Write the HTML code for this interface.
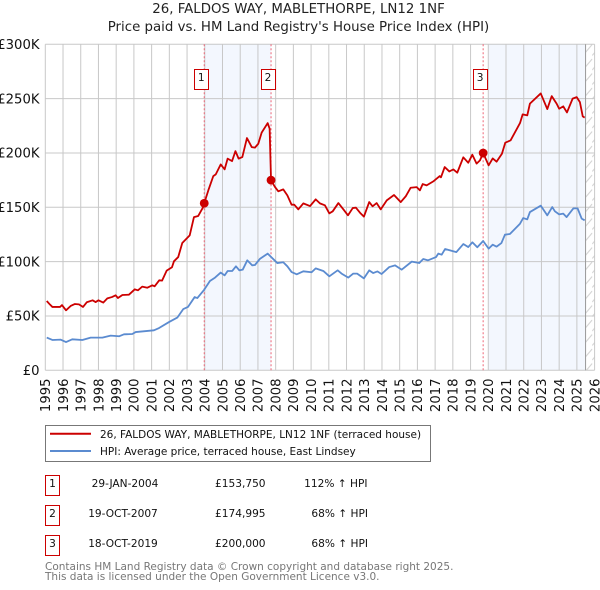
<!DOCTYPE html>
<html lang="en">
<head>
<meta charset="utf-8">
<title>26, FALDOS WAY, MABLETHORPE, LN12 1NF</title>
<style>
html,body{margin:0;padding:0;background:#fff;}
body{width:600px;height:590px;overflow:hidden;}
svg{display:block;font-family:"DejaVu Sans","Liberation Sans",sans-serif;}
</style>
</head>
<body>
<svg id="chart" width="600" height="590" viewBox="0 0 600 590" xmlns="http://www.w3.org/2000/svg">
  <defs>
    <pattern id="hatch" patternUnits="userSpaceOnUse" width="9.4" height="14.5">
      <line x1="0" y1="12" x2="9.4" y2="1" stroke="#d0d0d0" stroke-width="1"/>
    </pattern>
  </defs>
  <text x="298.5" y="13" font-size="13.35" text-anchor="middle" fill="#222">26, FALDOS WAY, MABLETHORPE, LN12 1NF</text>
  <text x="298.5" y="31" font-size="13.35" text-anchor="middle" fill="#222">Price paid vs. HM Land Registry's House Price Index (HPI)</text>
  <g id="plot"></g>

  <g>
    <rect x="45.5" y="425.5" width="385" height="36" fill="#fff" stroke="#777" stroke-width="1"/>
    <line x1="50" y1="433.7" x2="91" y2="433.7" stroke="#cc0000" stroke-width="2"/>
    <text x="100" y="438" font-size="10.5" fill="#111">26, FALDOS WAY, MABLETHORPE, LN12 1NF (terraced house)</text>
    <line x1="50" y1="451" x2="91" y2="451" stroke="#5b8bd0" stroke-width="2"/>
    <text x="100" y="455" font-size="10.5" fill="#111">HPI: Average price, terraced house, East Lindsey</text>
  </g>

  <g font-size="10.6" fill="#111">
    <g>
      <rect x="45.5" y="475.5" width="14" height="20" fill="#fff" stroke="#cc0000"/>
      <text x="52.5" y="487" text-anchor="middle">1</text>
      <text x="125" y="487" text-anchor="middle">29-JAN-2004</text>
      <text x="215" y="487">£153,750</text>
      <text x="367.5" y="487" text-anchor="end">112% ↑ HPI</text>
    </g>
    <g>
      <rect x="45.5" y="505.5" width="14" height="20" fill="#fff" stroke="#cc0000"/>
      <text x="52.5" y="517" text-anchor="middle">2</text>
      <text x="123" y="517" text-anchor="middle">19-OCT-2007</text>
      <text x="215" y="517">£174,995</text>
      <text x="368" y="517" text-anchor="end">68% ↑ HPI</text>
    </g>
    <g>
      <rect x="45.5" y="535.5" width="14" height="20" fill="#fff" stroke="#cc0000"/>
      <text x="52.5" y="547" text-anchor="middle">3</text>
      <text x="123" y="547" text-anchor="middle">18-OCT-2019</text>
      <text x="215" y="547">£200,000</text>
      <text x="368" y="547" text-anchor="end">68% ↑ HPI</text>
    </g>
  </g>

  <text x="45" y="570" font-size="10.5" fill="#777">Contains HM Land Registry data © Crown copyright and database right 2025.</text>
  <text x="45" y="580" font-size="10.5" fill="#777">This data is licensed under the Open Government Licence v3.0.</text>
</svg>
<script>
const xTickYears = [1995,1996,1997,1998,1999,2000,2001,2002,2003,2004,2005,2006,2007,2008,2009,2010,2011,2012,2013,2014,2015,2016,2017,2018,2019,2020,2021,2022,2023,2024,2025,2026];
const yTickValues = [0,50,100,150,200,250,300];
const yTickLabels = ['£0','£50K','£100K','£150K','£200K','£250K','£300K'];
const saleLabels = ['1','2','3'];
const saleYears = [2003.97,2007.74,2019.71];
const salePrices = [153.75,174.995,200];
const shadeStarts = [2003.97,2020.0];
const shadeEnds = [2007.74,2025.49];
const dataEndYear = 2025.49;
const redYears = [1995.08,1995.27,1995.4,1995.83,1995.94,1996.17,1996.43,1996.66,1996.9,1997.13,1997.34,1997.67,1997.84,1998.0,1998.27,1998.5,1998.76,1998.97,1999.1,1999.35,1999.72,2000.05,2000.23,2000.47,2000.76,2001.04,2001.17,2001.43,2001.59,2001.85,2002.15,2002.26,2002.5,2002.73,2003.15,2003.39,2003.63,2003.91,2003.97,2004.2,2004.48,2004.62,2004.9,2005.12,2005.29,2005.54,2005.73,2005.91,2006.12,2006.38,2006.65,2006.83,2007.02,2007.21,2007.55,2007.66,2007.74,2007.96,2008.15,2008.43,2008.66,2008.9,2009.05,2009.28,2009.56,2009.94,2010.26,2010.5,2010.78,2011.03,2011.22,2011.54,2011.82,2012.08,2012.35,2012.53,2012.76,2012.98,2013.28,2013.47,2013.7,2013.93,2014.27,2014.68,2015.06,2015.35,2015.62,2015.96,2016.14,2016.3,2016.52,2016.92,2017.26,2017.33,2017.54,2017.8,2018.03,2018.25,2018.59,2018.87,2019.1,2019.34,2019.53,2019.71,2020.02,2020.25,2020.47,2020.77,2020.96,2021.26,2021.79,2021.94,2022.2,2022.35,2022.96,2023.33,2023.58,2023.86,2024.0,2024.23,2024.44,2024.76,2024.99,2025.17,2025.33,2025.44];
const redValues = [63.8,60.4,58.3,58.3,60,55.2,59.2,61,60.7,58.3,62.6,64.4,62.8,64.4,62.3,66.2,67.4,69,66.5,69.3,69.6,74.5,73.6,77,76,78.2,77.3,82.8,82.5,91.7,94.8,100.3,104.2,117.1,124.2,141,142,150.2,153.75,165.6,178.7,180.3,189.5,184.9,194.8,192.5,201.7,194.8,196.2,213.7,205.4,204.9,208.5,218.7,227.5,222.3,174.995,168.7,164.7,166.5,161,152.4,152.4,148.1,153.6,151.1,157.3,153.6,151.8,144.4,146.3,153.9,148.1,142.6,149.3,149.7,145,141.4,154.8,150.9,153.9,148.1,156.4,161.3,154.8,160.3,168,168.6,165.6,171.4,170.2,174.1,178.7,177.6,187,183,184.9,181.9,196,191,198.4,190.2,193.2,200,188.6,195,192,199.3,209.5,211.6,227.5,235.5,234.6,245.4,254.8,240.4,252.3,245.3,240.7,242.9,237.3,250,251.4,246.8,233.7,232.5];
const blueYears = [1995.08,1995.4,1995.87,1996.17,1996.52,1997.09,1997.56,1998.22,1998.69,1999.16,1999.44,1999.91,2000.1,2001.13,2001.42,2001.98,2002.45,2002.79,2003.05,2003.43,2003.58,2003.97,2004.29,2004.58,2004.9,2005.12,2005.29,2005.55,2005.76,2005.95,2006.14,2006.4,2006.68,2006.83,2007.12,2007.55,2007.9,2008.09,2008.43,2008.66,2008.9,2009.19,2009.56,2010.03,2010.26,2010.69,2011.03,2011.5,2011.72,2012.1,2012.38,2012.6,2012.98,2013.28,2013.5,2013.74,2013.98,2014.41,2014.74,2015.11,2015.68,2016.1,2016.33,2016.6,2017.05,2017.18,2017.37,2017.56,2018.2,2018.59,2018.87,2019.1,2019.38,2019.71,2020.02,2020.25,2020.47,2020.74,2020.94,2021.22,2021.79,2021.97,2022.2,2022.35,2022.96,2023.33,2023.61,2023.76,2024.0,2024.23,2024.42,2024.8,2025.04,2025.27,2025.44];
const blueValues = [30.1,27.9,28.2,26,28.5,27.9,30.1,30.1,31.9,31.3,33.1,33.4,35.2,36.8,38.9,44.4,48.5,56.4,58.3,67.4,66.5,74.2,82.2,85.3,89.9,87.4,91.4,91.4,95.7,92,92.6,101.2,96.6,96.9,102.7,107.4,101.8,98.7,99.4,95.7,90.4,88.3,91.1,90.2,93.8,91.4,86.5,92,89,85.3,89,89,84.6,92,89.5,91,88.6,95,96.6,92.6,100,98.7,102.4,101.2,104.2,107.4,106.4,111.6,108.8,116.2,113.4,117.8,113.2,119,112,115.6,113.8,117.1,124.8,125.4,134.9,140.1,138.9,145.6,151.5,142.6,150.2,146.3,143.5,144.2,141,149,149,139.6,138];

const SVGNS = 'http://www.w3.org/2000/svg';
const plot = document.getElementById('plot');
const plotLeft = 45.3, plotRight = 594.6, plotTop = 44.3, plotBottom = 370.3;
function xScale(year){
  return plotLeft + (year - 1995) * (plotRight - plotLeft) / 31;
}
function yScale(value){
  return plotBottom - value * (plotBottom - plotTop) / 300;
}
function add(tag, attrs){
  const el = document.createElementNS(SVGNS, tag);
  for (const k in attrs) el.setAttribute(k, attrs[k]);
  plot.appendChild(el);
  return el;
}
shadeStarts.forEach(function(s, i){
  const el = add('rect', {x:xScale(s), y:plotTop, width:xScale(shadeEnds[i])-xScale(s), height:plotBottom-plotTop, fill:'#f3f7fe'});
  
  
});
const hatchEl = add('rect', {x:xScale(dataEndYear), y:plotTop, width:plotRight-xScale(dataEndYear), height:plotBottom-plotTop, fill:'url(#hatch)'});


yTickValues.forEach(function(v, i){
  const line = add('line', {x1:plotLeft, x2:plotRight, y1:yScale(v), y2:yScale(v), stroke:'#c8c8c8', 'stroke-width':1});
  
  
  const label = add('text', {x:39.5, y:yScale(v)+4.7, 'font-size':13.2, 'text-anchor':'end', fill:'#111'});
  label.textContent = yTickLabels[i];
  
  
});
xTickYears.forEach(function(y){
  const line = add('line', {x1:xScale(y), x2:xScale(y), y1:plotTop, y2:plotBottom, stroke:'#c8c8c8', 'stroke-width':1});
  
  
  const tx = xScale(y) + 4.8, ty = 378.5;
  const label = add('text', {x:tx, y:ty, 'font-size':13.2, 'text-anchor':'end', fill:'#111', transform:'rotate(-90 '+tx+' '+ty+')'});
  label.textContent = String(y);
  
  
});
const endLine = add('line', {x1:xScale(dataEndYear), x2:xScale(dataEndYear), y1:plotTop, y2:plotBottom, stroke:'#999999', 'stroke-width':1});


saleYears.forEach(function(y){
  const line = add('line', {x1:xScale(y), x2:xScale(y), y1:plotTop, y2:plotBottom, stroke:'#ee6677', 'stroke-width':1, 'stroke-dasharray':'2 2'});
  
  
});
function toPoints(xs, ys){
  return xs.map(function(x, i){ return xScale(x).toFixed(2)+','+yScale(ys[i]).toFixed(2); }).join(' ');
}
const blueLine = add('polyline', {points:toPoints(blueYears, blueValues), fill:'none', stroke:'#5b8bd0', 'stroke-width':1.8, 'stroke-linejoin':'round'});


const redLine = add('polyline', {points:toPoints(redYears, redValues), fill:'none', stroke:'#cc0000', 'stroke-width':1.8, 'stroke-linejoin':'round'});


saleYears.forEach(function(y, i){
  const dot = add('circle', {cx:xScale(y), cy:yScale(salePrices[i]), r:4.4, fill:'#cc0000'});
  
  
  const cx = xScale(y) - 3;
  const box = add('rect', {x:Math.round(cx-7)+0.5, y:69.5, width:14, height:20, fill:'#fff', stroke:'#cc0000', 'stroke-width':1});
  
  
  const t = add('text', {x:cx, y:81, 'font-size':10.6, 'text-anchor':'middle', fill:'#111'});
  t.textContent = saleLabels[i];
  
  
});
</script>
</body>
</html>
